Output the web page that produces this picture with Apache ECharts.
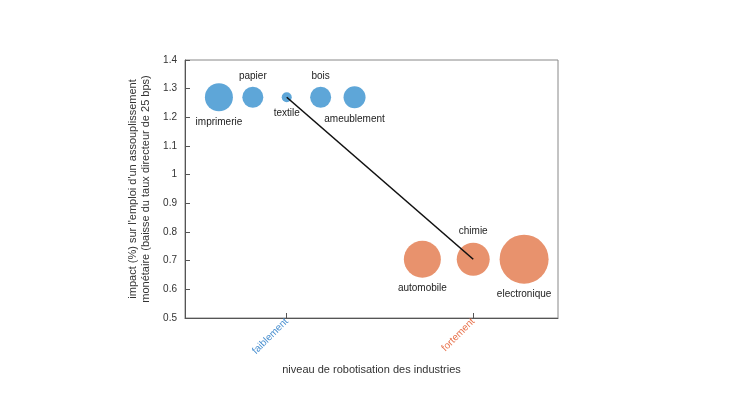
<!DOCTYPE html>
<html><head><meta charset="utf-8">
<script src="https://cdn.jsdelivr.net/npm/echarts@6/dist/echarts.min.js"></script>
<style>html,body{margin:0;background:#fff}#c{width:730px;height:410px}</style></head>
<body><div id="c"></div>
<script>
const lowNames = ['imprimerie','papier','textile','bois','ameublement'];
const lowX = [1,2,3,4,5];
const lowY = [1.27,1.27,1.27,1.27,1.27];
const lowSize = [28,21,10,21,22];
const lowLabelPos = ['bottom','top','bottom','top','bottom'];
const highNames = ['automobile','chimie','electronique'];
const highX = [7,8.5,10];
const highY = [0.705,0.705,0.705];
const highSize = [37,33,49];
const highLabelPos = ['bottom','top','bottom'];
const lineX = [3,8.5];
const lineY = [1.27,0.705];
const tickPos = [3,8.5];
const tickLabels = ['faiblement','fortement'];
const tickColors = ['#4a90d0','#e8744f'];

function pts(xs,ys,sz,names,pos){return xs.map((x,i)=>({value:[x,ys[i],sz[i]],name:names[i],label:{position:pos[i]}}));}
const axisCommon={axisLine:{show:true,lineStyle:{color:'#555'}},axisTick:{inside:true,lineStyle:{color:'#555'}},splitLine:{show:false}};
const chart=echarts.init(document.getElementById('c'));
chart.setOption({
 animation:false,
 grid:{left:185,right:172,top:60,bottom:92,show:true,borderColor:'#888',borderWidth:1},
 xAxis:{type:'value',min:0,max:11,...axisCommon,
  axisTick:{inside:true,customValues:tickPos,lineStyle:{color:'#555'}},
  axisLabel:{customValues:tickPos,rotate:45,fontSize:10,fontFamily:'Liberation Sans',margin:2,
   formatter:v=>{const i=tickPos.indexOf(v);return i===0?'{a|'+tickLabels[0]+'}':'{b|'+tickLabels[1]+'}';},
   rich:{a:{color:tickColors[0],fontSize:10},b:{color:tickColors[1],fontSize:10}}},
  name:'niveau de robotisation des industries',nameLocation:'middle',nameGap:46,
  nameTextStyle:{color:'#333',fontSize:11,fontFamily:'Liberation Sans'}},
 yAxis:{type:'value',min:0.5,max:1.4,interval:0.1,...axisCommon,
  axisLabel:{color:'#333',fontSize:10,fontFamily:'Liberation Sans',formatter:v=>v===1?'1':v.toFixed(1)},
  name:"impact (%) sur l'emploi d'un assouplissement\nmonétaire (baisse du taux directeur de 25 bps)",
  nameLocation:'middle',nameGap:10,nameRotate:90,
  nameTextStyle:{color:'#333',fontSize:11,lineHeight:13,fontFamily:'Liberation Sans'}},
 series:[
  {type:'scatter',data:pts(lowX,lowY,lowSize,lowNames,lowLabelPos),symbolSize:d=>d[2],
   itemStyle:{color:'#5ea6d8',opacity:1},
   label:{show:true,formatter:p=>p.name,color:'#222',fontSize:10,fontFamily:'Liberation Sans',distance:6}},
  {type:'scatter',data:pts(highX,highY,highSize,highNames,highLabelPos),symbolSize:d=>d[2],
   itemStyle:{color:'#e8926d',opacity:1},
   label:{show:true,formatter:p=>p.name,color:'#222',fontSize:10,fontFamily:'Liberation Sans',distance:6}},
  {type:'line',data:lineX.map((x,i)=>[x,lineY[i]]),symbol:'none',lineStyle:{color:'#111',width:1.6},z:5}
 ]
});
</script></body></html>
